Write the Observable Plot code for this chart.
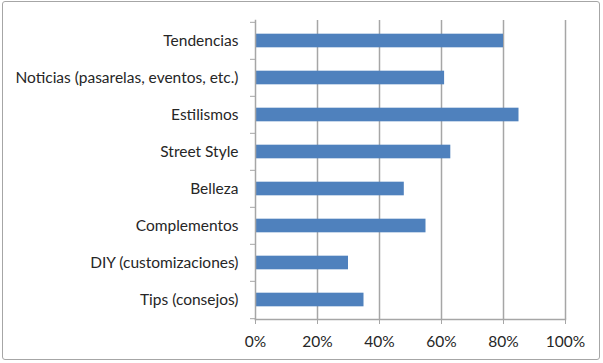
<!DOCTYPE html>
<html><head><meta charset="utf-8">
<script src="https://cdn.jsdelivr.net/npm/d3@7"></script>
<script src="https://cdn.jsdelivr.net/npm/@observablehq/plot@0.6"></script>
<style>
body{margin:0;background:#fff;}
#wrap{position:relative;width:603px;height:363px;overflow:hidden;}
#border{position:absolute;left:2px;top:1px;width:596px;height:357px;border:1.5px solid #a6a6a6;border-radius:3px;pointer-events:none;}
</style></head><body><div id="wrap"><div id="border"></div></div>
<script>
const categories = ["Tendencias","Noticias (pasarelas, eventos, etc.)","Estilismos","Street Style","Belleza","Complementos","DIY (customizaciones)","Tips (consejos)"];
const values = [80, 61, 85, 63, 48, 55, 30, 35];
const xTicks = [0, 20, 40, 60, 80, 100];

const data = categories.map((c, i) => ({category: c, value: values[i]}));
const W = 603, H = 363, mt = 20, mb = 44, ml = 255, mr = 38;
const step = (H - mt - mb) / categories.length;
const barH = 14;
const inset = (step - barH) / 2;
const grid = "#a6a6a6";

const chart = Plot.plot({
  width: W, height: H,
  marginLeft: ml, marginRight: mr, marginTop: mt, marginBottom: mb,
  style: {fontFamily: "Lato, 'Open Sans', sans-serif", fontSize: "15.5px", color: "#262626", background: "transparent"},
  x: {domain: [0, 100], ticks: xTicks, tickFormat: d => d + "%"},
  y: {domain: categories, padding: 0},
  marks: [
    Plot.ruleX(xTicks.filter(d => d > 0), {stroke: grid, strokeWidth: 1.5}),
    Plot.barX(data, {x: "value", y: "category", fill: "#4f81bd", insetTop: inset, insetBottom: inset}),
    Plot.frame({anchor: "left", stroke: grid, strokeWidth: 1.5}),
    Plot.frame({anchor: "bottom", stroke: grid, strokeWidth: 1.5}),
    Plot.axisX({ticks: xTicks, tickSize: 5, tickPadding: 11, stroke: grid, tickFormat: d => d + "%", label: null}),
    Plot.axisY({tickSize: 0, tickPadding: 17, label: null}),
    Plot.axisY({tickSize: 5, dy: -step / 2, stroke: grid, tickFormat: () => "", label: null}),
    Plot.axisY({ticks: [categories[categories.length - 1]], tickSize: 5, dy: step / 2, stroke: grid, tickFormat: () => "", label: null})
  ]
});
document.getElementById("wrap").appendChild(chart);
</script>
</body></html>
